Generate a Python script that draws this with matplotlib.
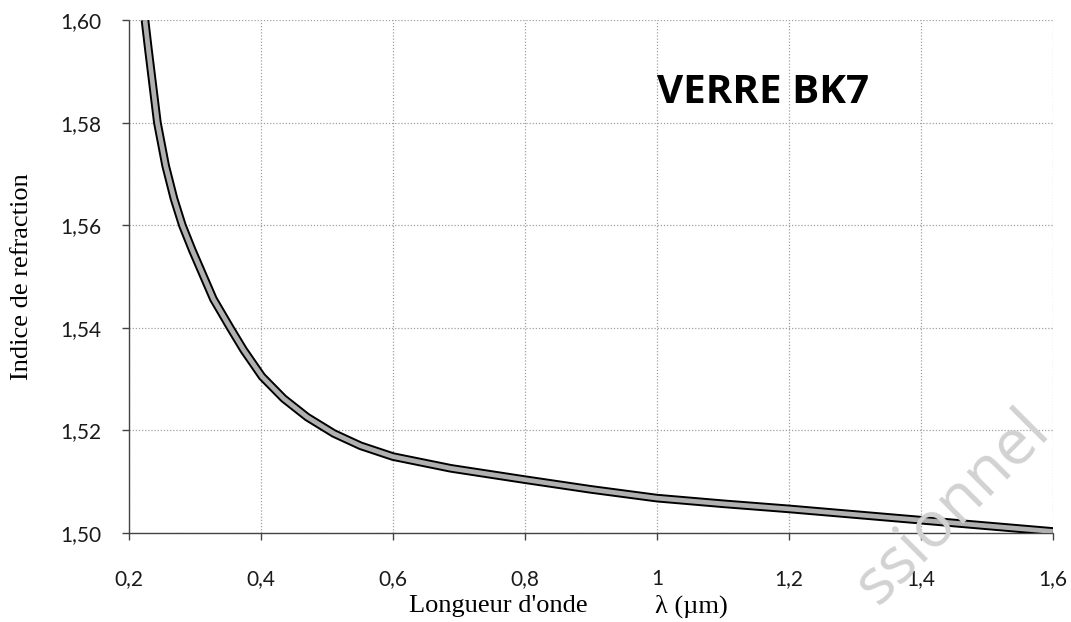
import matplotlib
matplotlib.use("Agg")
import matplotlib.pyplot as plt

# BK7 glass: refractive index vs wavelength
wavelength = [0.2243, 0.2293, 0.2355, 0.2431, 0.2556, 0.2682, 0.2809, 0.2961, 0.328,
              0.3535, 0.3737, 0.4016, 0.4345, 0.470, 0.5105, 0.551, 0.60, 0.688,
              0.80, 0.90, 1.00, 1.10, 1.20, 1.30, 1.40, 1.50, 1.60]
indice = [1.600, 1.5945, 1.588, 1.580, 1.5716, 1.5652, 1.560, 1.5551, 1.5456,
          1.5400, 1.5357, 1.5305, 1.5262, 1.5226, 1.5194, 1.5170, 1.5149, 1.5126,
          1.5104, 1.5085, 1.5068, 1.5057, 1.5047, 1.5036, 1.5025, 1.5014, 1.5003]

x_ticks = [0.2, 0.4, 0.6, 0.8, 1.0, 1.2, 1.4, 1.6]
x_labels = ["0,2", "0,4", "0,6", "0,8", "1", "1,2", "1,4", "1,6"]
y_ticks = [1.50, 1.52, 1.54, 1.56, 1.58, 1.60]
y_labels = ["1,50", "1,52", "1,54", "1,56", "1,58", "1,60"]

fig = plt.figure(figsize=(10.71, 6.22), dpi=100)
ax = fig.add_axes([0.1204, 0.1431, 0.8626, 0.8247])

# double line: black outline with grey core
ax.plot(wavelength, indice, color="black", lw=6.2, solid_capstyle="butt",
        solid_joinstyle="round", zorder=3)
ax.plot(wavelength, indice, color="#b0b0b0", lw=3.4, solid_capstyle="butt",
        solid_joinstyle="round", zorder=4)

ax.set_xlim(0.2, 1.6)
ax.set_ylim(1.50, 1.60)
ax.set_xticks(x_ticks)
ax.set_xticklabels(x_labels)
ax.set_yticks(y_ticks)
ax.set_yticklabels(y_labels)

ax.grid(True, color="#a0a0a0", linestyle=(0, (1, 1.5)), lw=0.9)
ax.set_axisbelow(True)
for side in ["top", "right"]:
    ax.spines[side].set_visible(False)
for side in ["left", "bottom"]:
    ax.spines[side].set_color("#444444")
    ax.spines[side].set_linestyle((0, (1, 1)))
    ax.spines[side].set_linewidth(1.0)

ax.tick_params(axis="x", direction="out", length=5, width=1, color="#444444", pad=21)
ax.tick_params(axis="y", direction="out", length=5, width=1, color="#444444", pad=15)
for lab in ax.get_xticklabels() + ax.get_yticklabels():
    lab.set_fontfamily("Lato")
    lab.set_fontsize(15)
    lab.set_color("#1a1a1a")

ax.text(0.5716, 0.838, "VERRE BK7", transform=ax.transAxes, fontsize=29,
        fontweight="bold", family="Open Sans", color="black", va="baseline")

fig.text(0.0205, 0.556, "Indice de refraction", rotation=90, ha="center", va="center",
         family="Liberation Serif", fontsize=19)
fig.text(0.465, 0.026, "Longueur d'onde", ha="center", va="center",
         family="Liberation Serif", fontsize=19)
fig.text(0.646, 0.026, "λ (µm)", ha="center", va="center",
         family="Liberation Serif", fontsize=19)

# faint watermark (only the visible end of the word)
fig.text(0.982, 0.3055, "ssionnel", rotation=45, rotation_mode="anchor",
         ha="right", va="baseline", family="Open Sans", fontsize=46,
         color="#d2d2d2", zorder=0)

fig.savefig("out.png", dpi=100)
